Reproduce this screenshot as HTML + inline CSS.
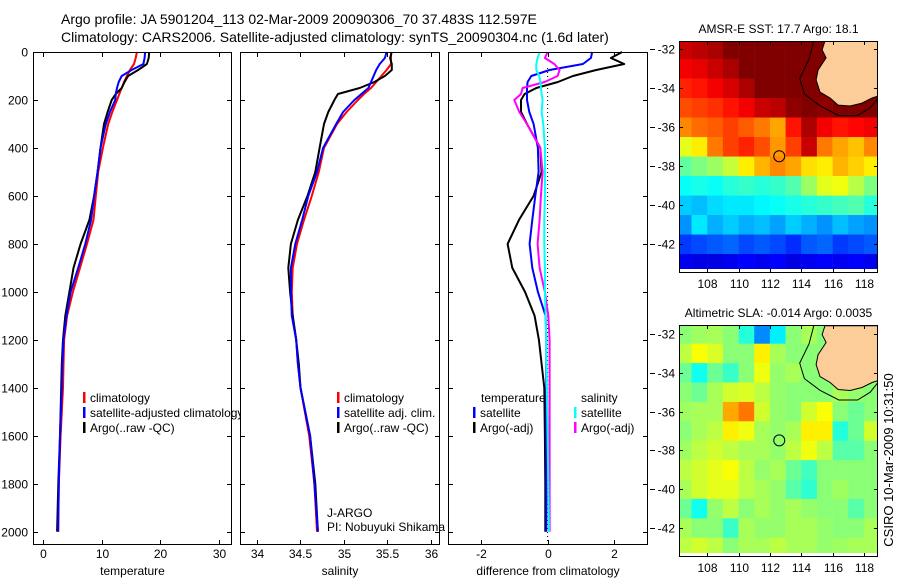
<!DOCTYPE html>
<html><head><meta charset="utf-8"><style>
html,body{margin:0;padding:0;background:#fff;}
svg{display:block;font-family:"Liberation Sans",sans-serif;}
</style></head><body>
<svg id="fig" width="900" height="580" viewBox="0 0 900 580" xmlns="http://www.w3.org/2000/svg">
<text x="61" y="24" font-size="14">Argo profile: JA 5901204_113 02-Mar-2009 20090306_70 37.483S 112.597E</text>
<text x="61" y="42" font-size="14">Climatology: CARS2006. Satellite-adjusted climatology: synTS_20090304.nc (1.6d later)</text>
<g id="root"></g>
<text transform="translate(893,460) rotate(-90)" text-anchor="middle" font-size="13">CSIRO 10-Mar-2009 10:31:50</text>
</svg>
<script>
// ---- profile data ----
const depths = [0,25,50,75,100,125,150,175,200,250,300,400,500,600,700,800,900,1000,1100,1200,1300,1400,1600,1800,2000];
const tempClim = [16.0,15.8,15.5,14.8,14.3,13.8,13.4,13.0,12.6,11.8,11.1,10.2,9.4,9.0,8.6,7.5,6.3,5.1,4.1,3.6,3.5,3.4,3.0,2.7,2.6];
const tempSat  = [17.4,17.3,17.1,15.1,13.4,12.9,12.6,12.4,12.3,11.4,10.7,9.8,9.3,8.7,8.2,7.2,6.0,4.7,4.0,3.5,3.3,3.2,2.9,2.7,2.55];
const tempArgo = [18.1,18.0,17.7,16.2,14.5,13.9,13.4,12.4,11.7,11.0,10.4,9.8,9.3,8.7,7.9,6.4,5.2,4.5,3.8,3.4,3.2,3.1,2.9,2.6,2.4];
const salClim = [35.54,35.54,35.54,35.49,35.43,35.37,35.31,35.23,35.16,35.03,34.92,34.77,34.71,34.63,34.54,34.46,34.41,34.40,34.41,34.45,34.47,34.50,34.60,34.66,34.69];
const salSat  = [35.49,35.47,35.41,35.37,35.34,35.31,35.28,35.20,35.12,34.99,34.91,34.76,34.69,34.59,34.52,34.44,34.39,34.39,34.40,34.45,34.47,34.50,34.61,34.66,34.70];
const salArgo = [35.55,35.53,35.55,35.55,35.47,35.35,35.18,34.93,34.89,34.82,34.77,34.72,34.67,34.58,34.47,34.39,34.36,34.38,34.41,34.45,34.48,34.50,34.61,34.67,34.70];
const dTempSat  = [1.34,1.30,1.06,0.06,-0.49,-0.60,-0.62,-0.62,-0.62,-0.55,-0.42,-0.29,-0.27,-0.37,-0.46,-0.54,-0.46,-0.29,-0.06,-0.04,-0.04,-0.04,-0.04,-0.04,-0.04];
const dTempArgo = [2.24,1.90,2.30,1.46,0.76,0.31,-0.34,-0.69,-0.80,-0.80,-0.62,-0.22,-0.18,-0.42,-0.86,-1.20,-1.06,-0.68,-0.39,-0.26,-0.18,-0.10,-0.08,-0.07,-0.07];
const dSalSat   = [-0.24,-0.30,-0.34,-0.34,-0.25,-0.22,-0.20,-0.18,-0.15,-0.18,-0.13,-0.08,-0.08,-0.08,-0.10,-0.10,-0.08,-0.08,-0.06,-0.04,-0.03,-0.02,0.00,0.02,0.04];
const dSalArgo  = [0.00,-0.08,0.20,0.36,0.30,-0.09,-0.75,-0.80,-1.00,-0.85,-0.62,-0.22,-0.15,-0.20,-0.24,-0.30,-0.24,-0.08,0.02,0.06,0.06,0.06,0.06,0.06,0.06];
const depthTicks = [0,200,400,600,800,1000,1200,1400,1600,1800,2000];
const tempTicks = [0,10,20,30];
const salTicks = [34,34.5,35,35.5,36];
const diffTicks = [-2,0,2];
// ---- map data (lon cell centres 106.5..118.5, lat rows 32..43 S) ----
const mapLons = [106.5,107.5,108.5,109.5,110.5,111.5,112.5,113.5,114.5,115.5,116.5,117.5,118.5];
const mapLats = [32,33,34,35,36,37,38,39,40,41,42,43];
const sstGrid = [
[18.8,18.9,19.0,19.3,19.8,20,20,20,20,19.7,20,20,20],
[18.5,18.6,18.8,19.0,19.4,19.8,19.9,20,20,19.6,20,20,20],
[18.2,18.3,18.5,18.7,19.0,19.4,19.6,19.8,19.7,19.3,19.5,19.8,19.8],
[17.9,18.0,18.1,18.3,18.5,18.8,18.9,19.2,19.3,19.2,19.3,19.4,19.4],
[17.5,17.7,17.8,18.0,17.8,17.6,17.3,18.3,19.0,18.5,18.3,18.4,18.5],
[16.5,16.8,17.6,18.0,18.2,17.9,17.4,18.0,18.8,17.6,17.3,17.1,17.5],
[15.6,15.8,16.0,16.3,16.8,17.2,17.5,17.3,16.9,16.8,17.2,17.0,16.8],
[15.0,15.1,15.0,15.2,15.3,15.2,15.3,15.5,16.0,16.5,16.6,16.2,15.8],
[14.6,14.5,14.7,14.8,14.8,14.9,15.0,15.1,15.2,15.3,15.4,15.5,15.2],
[14.2,14.8,14.4,14.6,14.4,14.5,14.3,14.6,14.4,14.2,14.5,14.3,14.2],
[13.6,13.7,13.8,13.9,13.7,13.8,13.7,13.5,13.8,13.9,13.6,13.7,13.8],
[13.1,13.0,13.0,13.1,13.2,13.1,13.2,13.0,13.1,13.2,13.1,13.2,13.1]];
const slaGrid = [
[.55,.57,.58,.55,.45,.30,.40,.55,.58,.55,.55,.55,.55],
[.60,.66,.63,.55,.55,.68,.58,.55,.55,.55,.55,.55,.55],
[.52,.43,.52,.47,.55,.65,.56,.58,.55,.55,.55,.55,.55],
[.55,.52,.58,.62,.63,.60,.56,.55,.55,.55,.58,.56,.55],
[.57,.58,.58,.75,.80,.62,.56,.55,.62,.66,.55,.52,.55],
[.55,.58,.60,.68,.65,.58,.56,.58,.68,.68,.45,.52,.62],
[.57,.60,.62,.60,.58,.58,.56,.60,.65,.60,.50,.50,.55],
[.60,.62,.64,.66,.60,.56,.58,.52,.48,.55,.55,.55,.55],
[.58,.62,.64,.64,.60,.58,.56,.50,.46,.55,.57,.55,.55],
[.52,.43,.56,.60,.55,.58,.56,.58,.56,.55,.55,.50,.55],
[.58,.55,.55,.47,.58,.56,.56,.58,.58,.56,.55,.55,.58],
[.60,.62,.60,.55,.58,.58,.60,.58,.58,.56,.57,.58,.58]];
const landLon = [115.52,115.33,115.59,115.08,114.95,115.2,115.84,116.35,117.12,117.88,118.52,118.9,118.9];
const landLat = [31.57,32.03,32.44,33.06,33.57,34.19,34.5,34.86,34.91,34.76,34.5,34.4,31.57];
const contLon = [114.8,114.5,113.9,114.2,115.2,116.4,117.6,118.4,118.9];
const contLat = [31.57,32.5,33.5,34.3,34.9,35.4,35.4,35.0,34.5];
const lonTicks = [108,110,112,114,116,118];
const latTicks = [32,34,36,38,40,42];
const argoLon = 112.597, argoLat = 37.483;

const NS='http://www.w3.org/2000/svg';
const root=document.getElementById('root');
function mk(tag,attrs,parent){const e=document.createElementNS(NS,tag);for(const k in attrs)e.setAttribute(k,attrs[k]);(parent||root).appendChild(e);return e;}
function txt(s,x,y,attrs,parent){const t=mk('text',Object.assign({x:x,y:y,'font-size':12},attrs||{}),parent);t.textContent=s;return t;}

const Y0=52, Y1=545, dScale=(531.7-52)/2000;
const yD=d=>Y0+d*dScale;

function profilePanel(name,x0,x1,v0,v1,ticks,fmt,label,series,leftLabels){
  const g=mk('g',{});
  
  
  mk('rect',{x:x0,y:Y0,width:x1-x0,height:Y1-Y0,fill:'#fff'},g);
  const xs=v=>x0+(v-v0)/(v1-v0)*(x1-x0);
  return {g,xs,draw(){
    series.forEach(s=>{
      const pts=s.vals.map((v,i)=>xs(v).toFixed(1)+','+yD(depths[i]).toFixed(1)).join(' ');
      const p=mk('polyline',{points:pts,fill:'none',stroke:s.color,'stroke-width':2,'stroke-linejoin':'round'},g);
      
      
    });
    mk('rect',{x:x0+0.5,y:Y0+0.5,width:x1-x0-1,height:Y1-Y0-1,fill:'none',stroke:'#000','stroke-width':1},g);
    ticks.forEach(t=>{const x=Math.round(xs(t))+0.5;
      mk('line',{x1:x,y1:Y1,x2:x,y2:Y1-5,stroke:'#000'},g);
      mk('line',{x1:x,y1:Y0,x2:x,y2:Y0+5,stroke:'#000'},g);
      const tl=txt(fmt(t),x,558,{'text-anchor':'middle'},g);
      
      
    });
    depthTicks.forEach(d=>{const y=Math.round(yD(d))+0.5;
      mk('line',{x1:x0,y1:y,x2:x0+5,y2:y,stroke:'#000'},g);
      mk('line',{x1:x1,y1:y,x2:x1-5,y2:y,stroke:'#000'},g);
      if(leftLabels){const tl=txt(String(d),x0-5,y+4,{'text-anchor':'end'},g);
        
        }
    });
    const al=txt(label,(x0+x1)/2,575,{'text-anchor':'middle'},g);
    
    
  }};
}
function legend(g,x,y,items){
  items.forEach((it,i)=>{
    mk('rect',{x:x,y:y+i*15-10,width:2.5,height:11,fill:it[1]},g);
    const t=txt(it[0],x+7,y+i*15,{},g);
    
    
  });
}

// Panel 1
const p1=profilePanel('temperature',33,232,(33-43)/5.87,(232-43)/5.87,tempTicks,String,'temperature',
 [{vals:tempClim,color:'#ff0000',name:'temp-climatology-line'},{vals:tempArgo,color:'#000',name:'temp-argo-line'},{vals:tempSat,color:'#0000ff',name:'temp-satellite-line'}],true);
p1.draw();
legend(p1.g,83,402,[['climatology','#f00'],['satellite-adjusted climatology','#00f'],['Argo(..raw -QC)','#000']]);
// Panel 2
const p2=profilePanel('salinity',240,440,34+(240-257)/87,34+(440-257)/87,salTicks,String,'salinity',
 [{vals:salClim,color:'#ff0000',name:'sal-climatology-line'},{vals:salArgo,color:'#000',name:'sal-argo-line'},{vals:salSat,color:'#0000ff',name:'sal-satellite-line'}],false);
p2.draw();
legend(p2.g,337,402,[['climatology','#f00'],['satellite adj. clim.','#00f'],['Argo(..raw -QC)','#000']]);
const j1=txt('J-ARGO',327,517,{},p2.g);


const j2=txt('PI: Nobuyuki Shikama',327,531,{},p2.g);


// Panel 3
const p3=profilePanel('difference',448,648,-2-(481-448)/33.3,-2+(648-481)/33.3,diffTicks,String,'difference from climatology',
 [{vals:dTempArgo,color:'#000',name:'diff-temp-argo-line'},{vals:dTempSat,color:'#0000ff',name:'diff-temp-satellite-line'},{vals:dSalArgo,color:'#ff00ff',name:'diff-sal-argo-line'},{vals:dSalSat,color:'#00ffff',name:'diff-sal-satellite-line'}],false);
const zl=mk('line',{x1:p3.xs(0),y1:68,x2:p3.xs(0),y2:Y1,stroke:'#000','stroke-dasharray':'1,3'},p3.g);


p3.draw();
const lt=txt('temperature',481,402,{},p3.g);


const ls=txt('salinity',581,402,{},p3.g);


legend(p3.g,473,417,[['satellite','#00f'],['Argo(-adj)','#000']]);
legend(p3.g,574,417,[['satellite','#0ff'],['Argo(-adj)','#f0f']]);

// ---- maps ----
function jet(v){v=Math.max(0,Math.min(1,v));
  const r=Math.max(0,Math.min(1,1.5-Math.abs(4*v-3))),g=Math.max(0,Math.min(1,1.5-Math.abs(4*v-2))),b=Math.max(0,Math.min(1,1.5-Math.abs(4*v-1)));
  return 'rgb('+Math.round(r*255)+','+Math.round(g*255)+','+Math.round(b*255)+')';}
function drawMap(name,top,bot,lat32y,latScale,dataBotY,grid,norm,title){
  const x0=679,x1=878;
  const lonX=lon=>x0+(lon-106.2)*15.67;
  const latY=lat=>lat32y+(lat-32)*latScale;
  const g=mk('g',{});
  
  
  const cid='clip-'+name;
  const cp=mk('clipPath',{id:cid},g);
  mk('rect',{x:x0,y:top,width:x1-x0,height:dataBotY-top},cp);
  const cg=mk('g',{'clip-path':'url(#'+cid+')'},g);
  grid.forEach((row,ri)=>row.forEach((v,ci)=>{
    const c=mk('rect',{x:lonX(mapLons[ci]-0.5).toFixed(2),y:latY(mapLats[ri]-0.5).toFixed(2),width:15.9,height:(latScale+0.4).toFixed(2),fill:jet(norm(v))},cg);
    
    
  }));
  const land=mk('polygon',{points:landLon.map((l,i)=>lonX(l).toFixed(1)+','+latY(landLat[i]).toFixed(1)).join(' '),fill:'#fccc99',stroke:'#000','stroke-width':1},cg);
  
  
  const ct=mk('polyline',{points:contLon.map((l,i)=>lonX(l).toFixed(1)+','+latY(contLat[i]).toFixed(1)).join(' '),fill:'none',stroke:'#000','stroke-width':1},cg);
  
  
  const m=mk('circle',{cx:lonX(argoLon),cy:latY(argoLat),r:5.5,fill:'none',stroke:'#000','stroke-width':1},g);
  
  
  mk('rect',{x:x0+0.5,y:top+0.5,width:x1-x0-1,height:bot-top-1,fill:'none',stroke:'#000'},g);
  lonTicks.forEach(l=>{const x=Math.round(lonX(l))+0.5;
    mk('line',{x1:x,y1:top,x2:x,y2:top+4,stroke:'#000'},g);
    mk('line',{x1:x,y1:bot,x2:x,y2:bot-4,stroke:'#000'},g);
    const t=txt(String(l),x,bot+15,{'text-anchor':'middle'},g);
    
    });
  latTicks.forEach(l=>{const y=Math.round(latY(l))+0.5;
    mk('line',{x1:x0,y1:y,x2:x0+4,y2:y,stroke:'#000'},g);
    mk('line',{x1:x1,y1:y,x2:x1-4,y2:y,stroke:'#000'},g);
    mk('line',{x1:650,y1:y,x2:655,y2:y,stroke:'#000'},g);
    const t=txt('-'+l,x0-4,y+4,{'text-anchor':'end'},g);
    
    });
  const tt=txt(title,(x0+x1)/2,top-8,{'text-anchor':'middle'},g);
  
  
}
drawMap('sst-map',41,273,49.3,19.5,269,sstGrid,v=>(v-12.33)/6.97,'AMSR-E SST: 17.7 Argo: 18.1');
drawMap('sla-map',325,557,334,19.4,553,slaGrid,v=>v-0.04,'Altimetric SLA: -0.014 Argo: 0.0035');
</script>
</body></html>
